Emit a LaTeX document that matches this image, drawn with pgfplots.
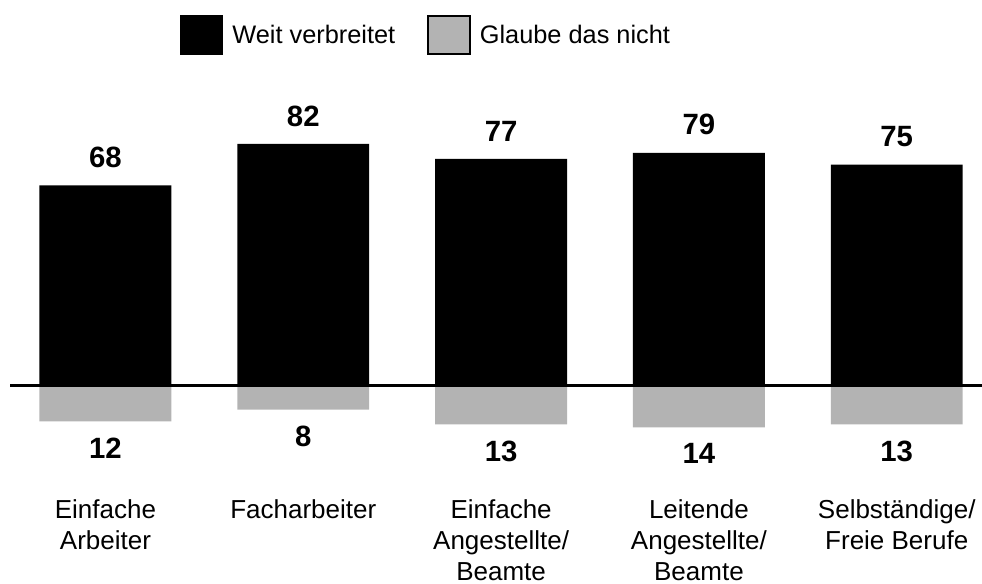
\documentclass[border=0pt]{standalone}
\usepackage{pgfplots}
\pgfplotsset{compat=1.18}
\usepackage{fontspec}
\setmainfont{Liberation Sans}
\definecolor{mygray}{HTML}{B3B3B3}
\begin{document}
\begin{tikzpicture}
\begin{axis}[
  scale only axis, width=736.5pt, height=438pt,
  xmin=-0.533, xmax=4.431, ymin=-67.1, ymax=130.8,
  hide axis, clip=false,
  /pgf/number format/assume math mode=true,
  ybar, bar width=0.667,
  legend columns=2,
  legend style={at={(rel axis cs:0.434,0.94)}, anchor=center, draw=none,
    font=\fontsize{19}{24}\selectfont,
    /tikz/every odd column/.append style={column sep=5pt},
    /tikz/every even column/.append style={column sep=22pt}},
]
\addplot[fill=black, draw=none, bar shift=0pt,
  legend image code/.code={\filldraw[fill=black,draw=black,line width=1.5pt] (0pt,-14.5pt) rectangle (31pt,14.5pt);},
  nodes near coords, point meta=y,
  every node near coord/.style={font=\bfseries\fontsize{22}{26}\selectfont, anchor=south, inner sep=0pt, yshift=13pt, text=black}]
  coordinates {(0,68) (1,82) (2,77) (3,79) (4,75)};
\addlegendentry{Weit verbreitet}
\addplot[fill=mygray, draw=none, bar shift=0pt,
  legend image code/.code={\filldraw[fill=mygray,draw=black,line width=1.5pt] (0pt,-14.5pt) rectangle (31pt,14.5pt);},
  nodes near coords, point meta=explicit,
  every node near coord/.style={font=\bfseries\fontsize{22}{26}\selectfont, anchor=north, inner sep=0pt, yshift=-12pt, text=black}]
  coordinates {(0,-12) [12] (1,-8) [8] (2,-13) [13] (3,-14) [14] (4,-13) [13]};
\addlegendentry{Glaube das nicht}
\addplot[sharp plot, black, line width=2.25pt, mark=none, forget plot]
  coordinates {(-0.48,0) (4.431,0)};
\node[font=\fontsize{19.5}{23.25}\selectfont, align=center, anchor=north, inner sep=0pt] at (axis cs:0,-38.3) {Einfache\\Arbeiter};
\node[font=\fontsize{19.5}{23.25}\selectfont, align=center, anchor=north, inner sep=0pt] at (axis cs:1,-38.3) {Facharbeiter};
\node[font=\fontsize{19.5}{23.25}\selectfont, align=center, anchor=north, inner sep=0pt] at (axis cs:2,-38.3) {Einfache\\Angestellte/\\Beamte};
\node[font=\fontsize{19.5}{23.25}\selectfont, align=center, anchor=north, inner sep=0pt] at (axis cs:3,-38.3) {Leitende\\Angestellte/\\Beamte};
\node[font=\fontsize{19.5}{23.25}\selectfont, align=center, anchor=north, inner sep=0pt] at (axis cs:4,-38.3) {Selbständige/\\Freie Berufe};
\end{axis}
\pgfresetboundingbox
\path[use as bounding box] (current axis.south west) rectangle (current axis.north east);
\end{tikzpicture}
\end{document}
